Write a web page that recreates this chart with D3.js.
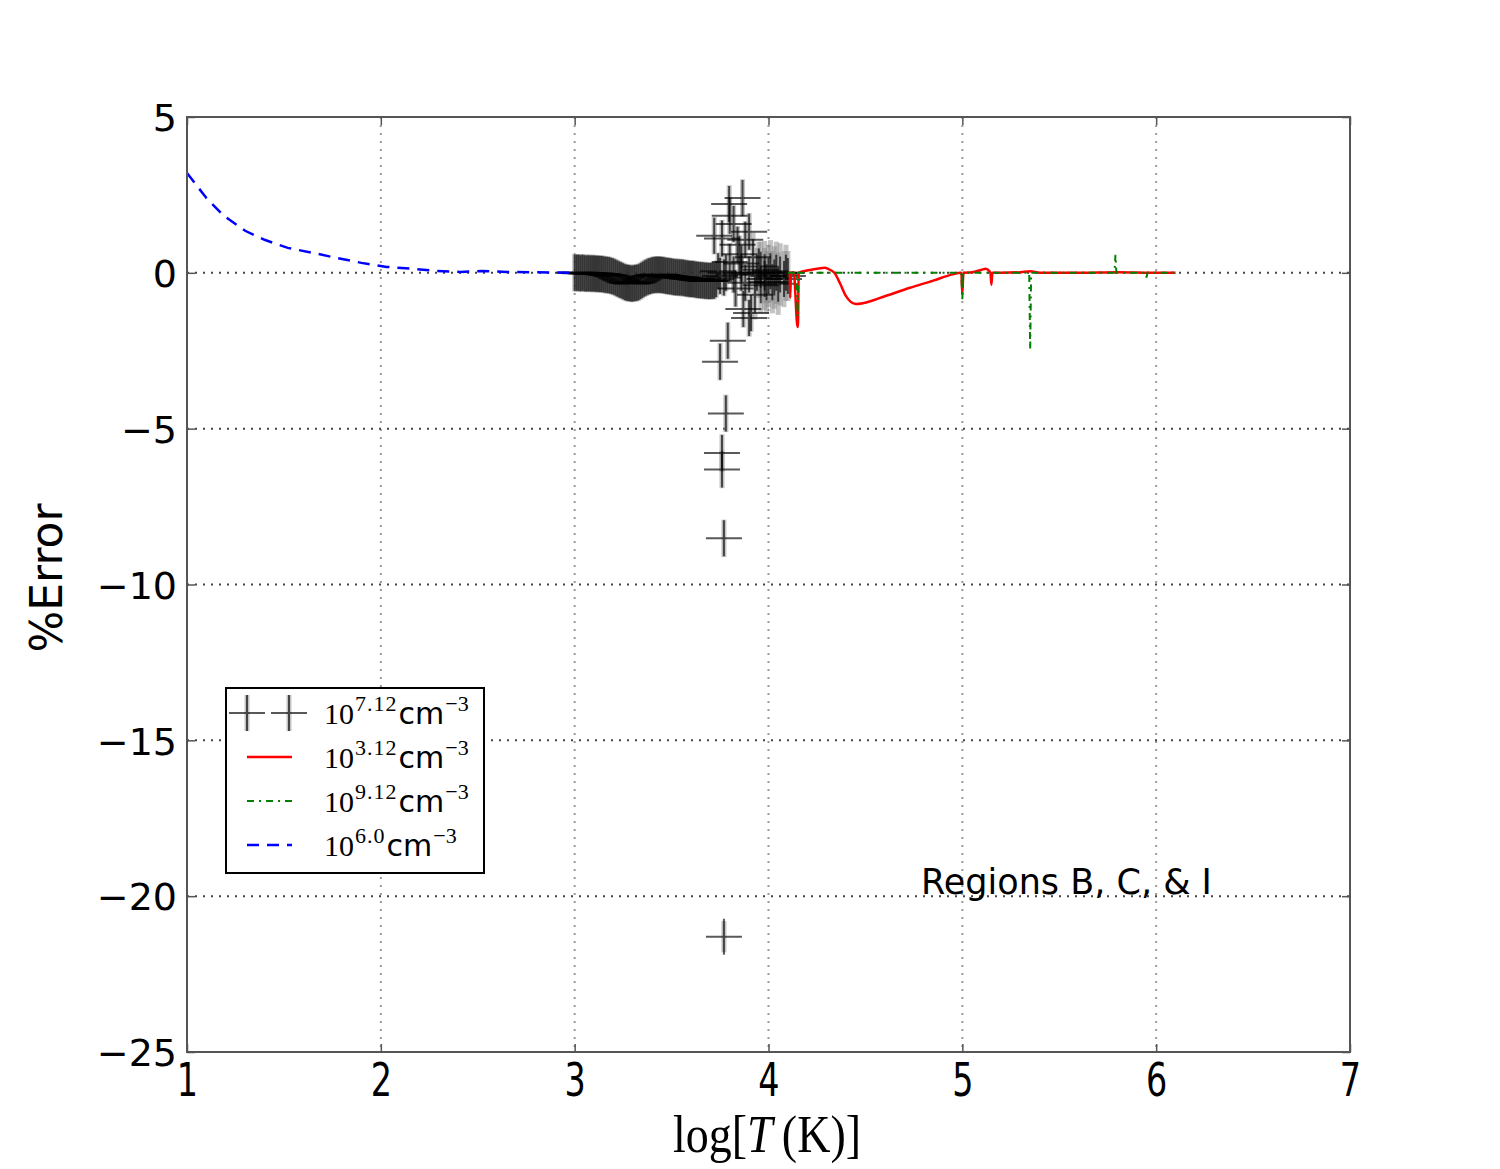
<!DOCTYPE html>
<html>
<head>
<meta charset="utf-8">
<title>%Error vs log T</title>
<style>
	body { margin: 0; background: #fff; }
	text { font-family: "DejaVu Sans", sans-serif; fill: #000; }
</style>
</head>
<body>
<script src="https://d3js.org/d3.v7.min.js"></script>
<script>
// ---- data ----
// 10^6.0 cm^-3 (blue dashed)
var blueT = [1.00, 1.10, 1.19, 1.30, 1.40, 1.52, 1.65, 1.77, 1.90, 2.03, 2.16, 2.29, 2.41, 2.52, 2.65, 2.77, 2.90, 3.00];
var blueY = [3.20, 2.40, 1.83, 1.35, 1.06, 0.80, 0.64, 0.48, 0.32, 0.19, 0.13, 0.06, 0.03, 0.06, 0.03, 0.02, 0.01, 0.00];

// 10^3.12 cm^-3 (red solid)
var redT = [4.10, 4.11, 4.112, 4.116, 4.13, 4.15, 4.152, 4.156, 4.18, 4.22, 4.26, 4.29, 4.31, 4.34, 4.37, 4.40, 4.45, 4.49, 4.60, 4.73, 4.85, 4.95, 4.99, 4.995, 5.00, 5.005, 5.05, 5.10, 5.12, 5.14, 5.145, 5.15, 5.155, 5.20, 5.30, 5.35, 5.40, 5.60, 5.80, 6.00, 6.10];
var redY = [0.00, 0.00, -0.80, 0.00, 0.02, -1.74, -1.74, 0.00, 0.05, 0.10, 0.14, 0.16, 0.12, 0.00, -0.35, -0.75, -1.00, -0.97, -0.75, -0.48, -0.25, -0.05, 0.00, 0.00, -0.70, 0.00, 0.02, 0.10, 0.13, 0.05, 0.00, -0.38, 0.00, 0.00, 0.02, 0.05, 0.00, 0.00, 0.02, 0.00, 0.00];

// 10^9.12 cm^-3 (green dash-dot)
var greenT = [4.10, 4.145, 4.15, 4.155, 4.50, 4.995, 5.00, 5.005, 5.345, 5.35, 5.355, 5.785, 5.79, 5.795, 5.945, 5.95, 5.955, 6.10];
var greenY = [0.00, 0.00, -1.40, 0.00, 0.00, 0.00, -0.85, 0.00, 0.00, -2.47, 0.00, 0.00, 0.58, 0.00, 0.00, -0.15, 0.00, 0.00];

// 10^7.12 cm^-3 (markers with error bars), dense part
var bandT = [3.00, 3.01, 3.02, 3.03, 3.04, 3.05, 3.06, 3.07, 3.08, 3.09,
	3.10, 3.11, 3.12, 3.13, 3.14, 3.15, 3.16, 3.17, 3.18, 3.19,
	3.20, 3.21, 3.22, 3.23, 3.24, 3.25, 3.26, 3.27, 3.28, 3.29,
	3.30, 3.31, 3.32, 3.33, 3.34, 3.35, 3.36, 3.37, 3.38, 3.39,
	3.40, 3.41, 3.42, 3.43, 3.44, 3.45, 3.46, 3.47, 3.48, 3.49,
	3.50, 3.51, 3.52, 3.53, 3.54, 3.55, 3.56, 3.57, 3.58, 3.59,
	3.60, 3.61, 3.62, 3.63, 3.64, 3.65, 3.66, 3.67, 3.68, 3.69,
	3.70, 3.71, 3.72];
var bandY = [0.00, 0.00, 0.00, -0.01, 0.00, -0.01, -0.02, -0.01, -0.02, -0.02,
	-0.02, -0.03, -0.03, -0.04, -0.04, -0.05, -0.06, -0.07, -0.08, -0.10,
	-0.12, -0.15, -0.18, -0.21, -0.24, -0.27, -0.30, -0.32, -0.33, -0.34,
	-0.34, -0.33, -0.32, -0.30, -0.26, -0.22, -0.18, -0.15, -0.12, -0.10,
	-0.08, -0.07, -0.06, -0.06, -0.06, -0.07, -0.08, -0.09, -0.10, -0.11,
	-0.12, -0.13, -0.14, -0.14, -0.15, -0.15, -0.16, -0.17, -0.18, -0.19,
	-0.20, -0.20, -0.21, -0.22, -0.23, -0.24, -0.24, -0.25, -0.25, -0.26,
	-0.26, -0.25, -0.25];
var bandErr = 0.6;

// scattered part of the same series
var sctT = [3.72, 3.73, 3.74, 3.75, 3.76, 3.77, 3.78, 3.797, 3.80, 3.80, 3.82, 3.82, 3.83, 3.84, 3.85, 3.866, 3.86, 3.86, 3.87, 3.88, 3.88, 3.90, 3.90, 3.91, 3.90,
	3.92, 3.93, 3.94, 3.95, 3.96, 3.96, 3.98, 3.98, 3.99, 4.00, 4.01, 4.02, 4.03, 4.04, 4.05, 4.06, 4.08, 4.09, 4.10,
	3.79, 3.75, 3.78, 3.76, 3.76, 3.77, 3.77];
var sctY = [1.19, -0.20, 0.05, -0.10, 1.10, -0.15, 0.00, 2.21, 1.83, 0.35, 1.57, -0.05, -0.50, 0.90, 0.60, 2.40, 0.00, 0.30, -1.16, 1.06, -0.32, 1.32, -1.45, -1.29, -0.05,
	0.50, -0.70, 0.00, 0.20, -0.40, 0.10, -0.20, 0.02, -0.30, -0.10, 0.05, -0.30, -0.15, 0.00, -0.35, -0.05, -0.20, 0.00, -0.10,
	-2.18, -2.85, -4.51, -5.78, -6.31, -8.52, -21.3];
var sctErr = [0.6, 0.6, 0.6, 0.6, 0.6, 0.6, 0.6, 0.6, 0.6, 0.6, 0.6, 0.6, 0.6, 0.6, 0.6, 0.6, 0.6, 0.6, 0.6, 0.6, 0.6, 0.6, 0.6, 0.6, 0.6,
	0.8, 0.8, 0.8, 0.8, 0.9, 0.9, 1.0, 1.0, 1.0, 1.0, 1.0, 1.0, 1.0, 1.0, 1.0, 1.0, 0.9, 0.9, 0.8,
	0.6, 0.6, 0.6, 0.6, 0.6, 0.6, 0.5];

var xTicks = [1, 2, 3, 4, 5, 6, 7];
var yTicks = [5, 0, -5, -10, -15, -20, -25];

var legendLabels = [
	{ base: "10", exp: "7.12", kind: "err" },
	{ base: "10", exp: "3.12", kind: "red" },
	{ base: "10", exp: "9.12", kind: "green" },
	{ base: "10", exp: "6.0", kind: "blue" }
];

// ---- layout ----
var L = 187, R = 1350, T = 117, B = 1052;

var svg = d3.select("body").append("svg")
	.attr("width", 1500)
	.attr("height", 1169);

var x = d3.scaleLinear().domain([1, 7]).range([L, R]);
var y = d3.scaleLinear().domain([-25, 5]).range([B, T]);

// grid
svg.append("g").selectAll("line")
	.data(xTicks.slice(1, -1))
	.enter().append("line")
	.attr("x1", function(d) { return x(d); })
	.attr("x2", function(d) { return x(d); })
	.attr("y1", T).attr("y2", B)
	.style("stroke", "#999")
	.style("stroke-width", 2)
	.style("stroke-dasharray", "2,6");
svg.append("g").selectAll("line")
	.data(yTicks.slice(1, -1))
	.enter().append("line")
	.attr("x1", L).attr("x2", R)
	.attr("y1", function(d) { return y(d); })
	.attr("y2", function(d) { return y(d); })
	.style("stroke", "#444")
	.style("stroke-width", 2)
	.style("stroke-dasharray", "2,6");

var plot = svg.append("g");

var line = d3.line()
	.x(function(d) { return x(d[0]); })
	.y(function(d) { return y(d[1]); });

// error-bar series
var errPts = bandT.map(function(t, i) { return [t, bandY[i], bandErr]; })
	.concat(sctT.map(function(t, i) { return [t, sctY[i], sctErr[i]]; }));

plot.append("g").selectAll("rect")
	.data(errPts)
	.enter().append("rect")
	.attr("x", function(d) { return x(d[0]) - 2.5; })
	.attr("width", 5)
	.attr("y", function(d) { return y(d[1] + d[2]); })
	.attr("height", function(d) { return y(d[1] - d[2]) - y(d[1] + d[2]); })
	.style("fill", "#888")
	.style("opacity", 0.5);

var crossPath = "M-18,0H18M0,-18V18";
plot.append("g").selectAll("path")
	.data(errPts)
	.enter().append("path")
	.attr("d", crossPath)
	.attr("transform", function(d) { return "translate(" + x(d[0]) + "," + y(d[1]) + ")"; })
	.style("fill", "none")
	.style("stroke", "#000")
	.style("stroke-width", 2)
	.style("opacity", 0.65);

// lines
plot.append("path")
	.datum(blueT.map(function(t, i) { return [t, blueY[i]]; }))
	.attr("d", line)
	.style("fill", "none")
	.style("stroke", "#0000ff")
	.style("stroke-width", 2.5)
	.style("stroke-dasharray", "12,8");

plot.append("path")
	.datum(redT.map(function(t, i) { return [t, redY[i]]; }))
	.attr("d", line.curve(d3.curveMonotoneX))
	.style("fill", "none")
	.style("stroke", "#ff0000")
	.style("stroke-width", 2.5);
line.curve(d3.curveLinear);

plot.append("path")
	.datum(greenT.map(function(t, i) { return [t, greenY[i]]; }))
	.attr("d", line)
	.style("fill", "none")
	.style("stroke", "#008000")
	.style("stroke-width", 2)
	.style("stroke-dasharray", "7,5,2,5");

// frame and ticks
svg.append("rect")
	.attr("x", L).attr("y", T)
	.attr("width", R - L).attr("height", B - T)
	.style("fill", "none")
	.style("stroke", "#555")
	.style("stroke-width", 2);

var axB = d3.axisBottom(x).tickValues(xTicks).tickSize(-8).tickPadding(14).tickFormat(d3.format("d"));
var axL = d3.axisLeft(y).tickValues(yTicks).tickSize(-8).tickPadding(12).tickFormat(d3.format("d"));
var axT = d3.axisTop(x).tickValues(xTicks).tickSize(-8).tickFormat("");
var axR = d3.axisRight(y).tickValues(yTicks).tickSize(-8).tickFormat("");

var gB = svg.append("g").attr("transform", "translate(0," + B + ")").call(axB);
var gL = svg.append("g").attr("transform", "translate(" + L + ",0)").call(axL);
svg.append("g").attr("transform", "translate(0," + T + ")").call(axT);
svg.append("g").attr("transform", "translate(" + R + ",0)").call(axR);

svg.selectAll(".domain").remove();
svg.selectAll(".tick line").style("stroke", "#555").style("stroke-width", 1.5);

gB.selectAll("text")
	.attr("y", null).attr("dy", null)
	.attr("transform", "translate(0,44) scale(0.88,1.22)")
	.style("font-size", "38px")
	.style("font-family", "'DejaVu Sans', sans-serif");
gL.selectAll("text")
	.attr("x", -10).attr("dy", "0.36em")
	.style("font-size", "38px")
	.style("font-family", "'DejaVu Sans', sans-serif");

// axis titles
var xt = svg.append("text")
	.attr("transform", "translate(767,1152) scale(1,1.15)")
	.attr("text-anchor", "middle")
	.style("font-family", "'Liberation Serif', serif")
	.style("font-size", "46px");
xt.append("tspan").style("font-family", "'Liberation Serif', serif").text("log[");
xt.append("tspan").style("font-family", "'Liberation Serif', serif").style("font-style", "italic").text("T");
xt.append("tspan").style("font-family", "'Liberation Serif', serif").text("\u2009(K)]");

svg.append("text")
	.attr("transform", "translate(62,578) rotate(-90)")
	.attr("text-anchor", "middle")
	.style("font-size", "44px")
	.text("%Error");

// annotation
svg.append("text")
	.attr("x", 921).attr("y", 894)
	.style("font-size", "35px")
	.text("Regions B, C, & I");

// legend
var lg = svg.append("g");
lg.append("rect")
	.attr("x", 226).attr("y", 688)
	.attr("width", 258).attr("height", 185)
	.style("fill", "#fff")
	.style("stroke", "#000")
	.style("stroke-width", 2);

var rowY = [713, 757, 801, 845];
legendLabels.forEach(function(d, i) {
	var ry = rowY[i];
	if (d.kind === "err") {
		[247, 289].forEach(function(cx) {
			lg.append("rect").attr("x", cx - 2.5).attr("y", ry - 18).attr("width", 5).attr("height", 36)
				.style("fill", "#888").style("opacity", 0.5);
			lg.append("path").attr("d", crossPath).attr("transform", "translate(" + cx + "," + ry + ")")
				.style("stroke", "#000").style("stroke-width", 2).style("opacity", 0.65);
		});
	} else {
		var st = { red: ["#ff0000", null, 2.5], green: ["#008000", "7,5,2,5", 2], blue: ["#0000ff", "12,8", 2.5] }[d.kind];
		lg.append("line").attr("x1", 247).attr("x2", 292).attr("y1", ry).attr("y2", ry)
			.style("stroke", st[0]).style("stroke-width", st[2]).style("stroke-dasharray", st[1]);
	}
	var t = lg.append("text").attr("x", 324).attr("y", ry + 11).style("font-size", "30px");
	t.append("tspan").style("font-family", "'Liberation Serif', serif").text(d.base);
	t.append("tspan").attr("dy", -13).attr("dx", 1).style("font-family", "'Liberation Serif', serif").style("font-size", "22px").style("letter-spacing", "1px").text(d.exp);
	t.append("tspan").attr("dy", 13).attr("dx", 1).text("cm");
	t.append("tspan").attr("dy", -13).attr("dx", 1).style("font-family", "'Liberation Serif', serif").style("font-size", "22px").text("\u22123");
});
</script>
</body>
</html>
